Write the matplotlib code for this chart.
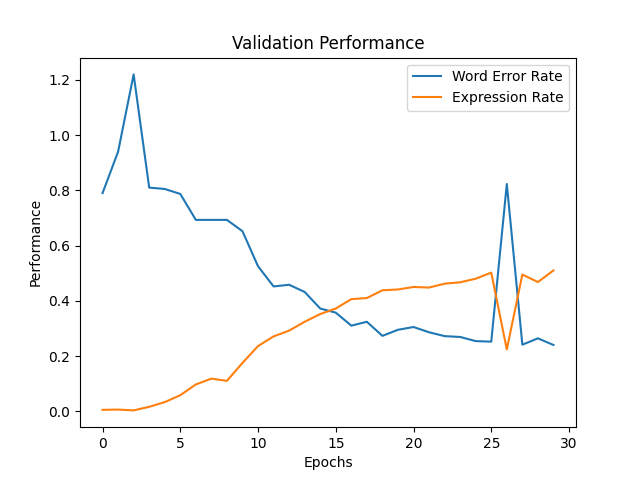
import matplotlib
matplotlib.use("Agg")
import matplotlib.pyplot as plt

epochs = list(range(30))
word_error_rate = [0.79, 0.94, 1.22, 0.81, 0.805, 0.787, 0.693, 0.693, 0.693, 0.652,
                   0.525, 0.452, 0.458, 0.432, 0.372, 0.357, 0.31, 0.324, 0.273, 0.295,
                   0.305, 0.286, 0.272, 0.269, 0.254, 0.252, 0.823, 0.241, 0.264, 0.24]
expression_rate = [0.005, 0.006, 0.003, 0.016, 0.033, 0.058, 0.097, 0.118, 0.11, 0.175,
                   0.236, 0.271, 0.292, 0.324, 0.352, 0.372, 0.406, 0.41, 0.438, 0.441,
                   0.45, 0.448, 0.462, 0.467, 0.48, 0.502, 0.224, 0.495, 0.468, 0.51]

fig, ax = plt.subplots(figsize=(6.4, 4.8), dpi=100)
ax.plot(epochs, word_error_rate, label="Word Error Rate")
ax.plot(epochs, expression_rate, label="Expression Rate")
ax.set_title("Validation Performance")
ax.set_xlabel("Epochs")
ax.set_ylabel("Performance")
ax.legend()
fig.savefig("out.png")
